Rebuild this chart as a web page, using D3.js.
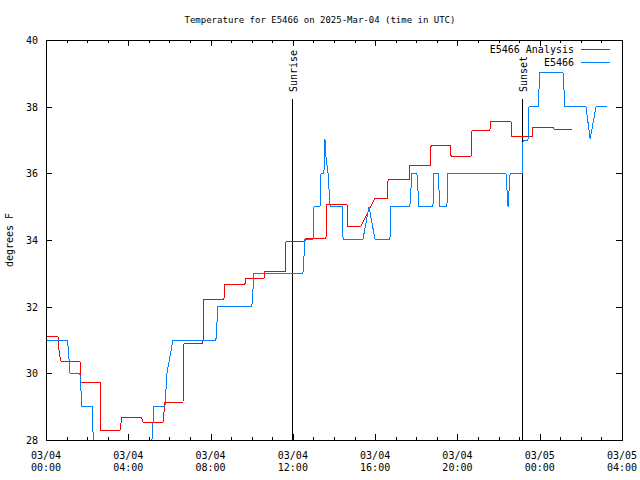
<!DOCTYPE html>
<html><head><meta charset="utf-8">
<script src="https://cdn.jsdelivr.net/npm/d3@7"></script>
<style>
body{margin:0;background:#fff;}
svg text{font-family:"DejaVu Sans Mono",monospace;font-size:10px;fill:#000;}
</style></head>
<body><svg id="c" width="640" height="480"></svg>
<script>
// hours after 2025-03-04 00:00 UTC
const analysisHours = [0,0.58,0.65,0.73,1.65,1.70,2.63,2.67,3.60,3.69,4.62,4.72,5.69,5.78,6.66,6.71,7.63,7.68,8.65,8.70,9.67,9.72,10.60,10.65,11.62,11.67,12.59,12.64,13.61,13.66,14.63,14.68,15.31,15.99,16.58,16.63,17.65,17.69,18.67,18.72,19.64,19.69,20.66,20.71,21.58,21.63,22.60,22.65,23.63,23.67,24.65,24.69,25.57];
const analysisTemps = [31.12,31.12,30.55,30.37,30.37,29.74,29.74,28.30,28.30,28.69,28.69,28.54,28.54,29.14,29.14,30.90,30.90,32.23,32.23,32.68,32.68,32.86,32.86,33.07,33.07,33.97,33.97,34.06,34.06,35.08,35.08,34.42,34.42,35.26,35.26,35.83,35.83,36.25,36.25,36.85,36.85,36.52,36.52,37.30,37.30,37.57,37.57,37.12,37.12,37.39,37.39,37.33,37.33];
const obsHours = [0,1.05,1.17,1.65,1.75,2.24,2.33,5.10,5.25,5.78,5.88,6.17,8.26,8.36,10.01,10.11,12.49,12.59,12.98,13.03,13.32,13.37,13.51,13.56,13.61,13.71,13.81,14.39,14.44,15.41,15.70,15.99,16.72,16.77,17.69,17.79,18.03,18.13,18.81,18.86,19.06,19.15,19.49,19.54,22.36,22.46,22.56,23.14,23.19,23.43,23.48,23.92,24.01,25.13,25.23,26.25,26.45,26.74,27.27];
const obsTemps = [31.0,31.0,30.0,30.0,29.0,29.0,27.5,27.5,29.0,29.0,30.0,31.0,31.0,32.02,32.02,33.0,33.0,34.03,34.03,35.02,35.02,36.0,36.0,37.03,36.5,36.0,35.02,35.02,34.03,34.03,35.0,34.03,34.03,35.02,35.02,36.0,36.0,35.02,35.02,36.0,36.0,35.02,35.02,36.0,36.0,35.0,36.0,36.0,37.0,37.0,38.0,38.0,39.04,39.04,38.0,38.0,37.03,38.0,38.0];
const seriesNames = ["E5466 Analysis","E5466"];
const seriesColors = ["#ff0000","#0080ff"];
const yTicks = [28,30,32,34,36,38,40];
const eventNames = ["Sunrise","Sunset"];
const eventHours = [11.96,23.14];
const titleText = "Temperature for E5466 on 2025-Mar-04 (time in UTC)";
const yLabel = "degrees F";

const t0 = Date.UTC(2025,2,4,0,0);
const toDate = h => new Date(t0 + h*3600000);
const L=46,R=622,T=40,B=440;
const svg = d3.select("#c");
const x = d3.scaleUtc().domain([toDate(0),toDate(28)]).range([L,R]);
const y = d3.scaleLinear().domain([28,40]).range([B,T]);

svg.append("defs").append("clipPath").attr("id","clip").append("rect")
  .attr("x",L).attr("y",T).attr("width",R-L).attr("height",B-T);

// title
svg.append("text").attr("x",320).attr("y",23).attr("text-anchor","middle")
  .style("font-size","9px").text(titleText);
// y label
svg.append("text").attr("transform","translate(13,240) rotate(-90)").attr("text-anchor","middle").text(yLabel);

const g = svg.append("g");
const crisp = v => Math.round(v)+0.5;
// y ticks
yTicks.forEach(v=>{
  const yy = crisp(y(v));
  g.append("line").attr("x1",L).attr("x2",L+6).attr("y1",yy).attr("y2",yy).attr("stroke","#000");
  g.append("line").attr("x1",R-6).attr("x2",R).attr("y1",yy).attr("y2",yy).attr("stroke","#000");
  g.append("text").attr("x",38).attr("y",y(v)+4).attr("text-anchor","end").text(v);
});
// x ticks
const hourTicks = d3.range(0,29);
hourTicks.forEach(h=>{
  const xx = crisp(x(toDate(h)));
  const len = h%4===0?6:3;
  g.append("line").attr("x1",xx).attr("x2",xx).attr("y1",B).attr("y2",B-len).attr("stroke","#000");
  g.append("line").attr("x1",xx).attr("x2",xx).attr("y1",T).attr("y2",T+len).attr("stroke","#000");
  if(h%4===0){
    const t = g.append("text").attr("x",x(toDate(h))).attr("y",459).attr("text-anchor","middle");
    t.append("tspan").attr("x",x(toDate(h))).text(d3.utcFormat("%m/%d")(toDate(h)));
    t.append("tspan").attr("x",x(toDate(h))).attr("dy",12).text(d3.utcFormat("%H:%M")(toDate(h)));
  }
});

// events
eventNames.forEach((n,i)=>{
  const xx = crisp(x(toDate(eventHours[i])));
  svg.append("line").attr("x1",xx).attr("x2",xx).attr("y1",99).attr("y2",B).attr("stroke","#000");
  svg.append("text").attr("transform",`translate(${xx+4},92) rotate(-90)`).attr("text-anchor","start").text(n);
});

// series
const line = d3.line().x(d=>x(toDate(d[0]))).y(d=>y(d[1]));
const data = [d3.zip(analysisHours,analysisTemps), d3.zip(obsHours,obsTemps)];
data.forEach((d,i)=>{
  svg.append("path").attr("clip-path","url(#clip)").attr("d",line(d))
    .attr("fill","none").attr("stroke",seriesColors[i]).attr("stroke-width",1)
    .attr("shape-rendering","crispEdges");
});

// frame
svg.append("rect").attr("x",L+0.5).attr("y",T+0.5).attr("width",R-L).attr("height",B-T)
  .attr("fill","none").attr("stroke","#000").attr("shape-rendering","crispEdges");

// legend
seriesNames.forEach((n,i)=>{
  const yy = 49.5 + i*13;
  svg.append("text").attr("x",574).attr("y",yy+3.5).attr("text-anchor","end").text(n);
  svg.append("line").attr("x1",581).attr("x2",610).attr("y1",yy).attr("y2",yy).attr("stroke",seriesColors[i]);
});
</script></body></html>
